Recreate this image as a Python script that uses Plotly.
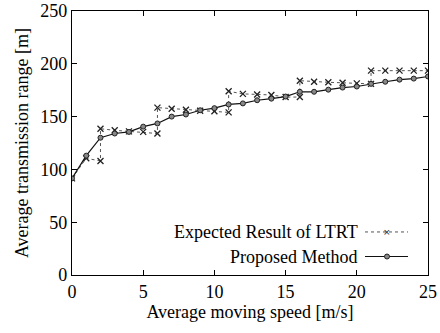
import plotly.graph_objects as go

# Data
speed_ltrt = [0, 1, 2, 2, 3, 4, 5, 6, 6, 7, 8, 9, 10, 11, 11, 12, 13, 14, 15,
              16, 16, 17, 18, 19, 20, 21, 21, 22, 23, 24, 25]
range_ltrt = [91.5, 110.5, 108, 138.5, 137, 136, 135.5, 134, 158.5, 157.5, 156.5,
              155.5, 155, 154, 174, 171.5, 171, 170.5, 168.5, 168.5, 184, 183,
              182.5, 182, 181.5, 181, 193.5, 193.5, 193.5, 193.5, 193.5]
speed_prop = list(range(0, 26))
range_prop = [91.5, 113, 130, 134, 135.5, 140.5, 143.5, 150, 152, 156, 158, 161.5,
              162.5, 165.5, 167, 169, 173.5, 173.5, 175.5, 177.5, 178.5, 181, 183,
              185, 186, 188]

x_ticks = [0, 5, 10, 15, 20, 25]
y_ticks = [0, 50, 100, 150, 200, 250]

FONT = "Liberation Serif"
FS = 18

fig = go.Figure()
fig.add_trace(go.Scatter(
    x=speed_ltrt, y=range_ltrt, mode="lines+markers", name="Expected Result of LTRT",
    line=dict(color="#555555", width=1, dash="dot"),
    marker=dict(symbol="x-thin", size=6, line=dict(color="#222222", width=1.3)),
    showlegend=False))
fig.add_trace(go.Scatter(
    x=speed_prop, y=range_prop, mode="lines+markers", name="Proposed Method",
    line=dict(color="#111111", width=1.2),
    marker=dict(symbol="circle", size=5, color="#888888", line=dict(color="#222222", width=1)),
    showlegend=False))

# Custom legend (text left, sample right)
legend_items = [("Expected Result of LTRT", 0.163, "dot", "x"),
                ("Proposed Method", 0.07, "solid", "o")]
x0p, x1p = (365 - 72) / 356, (408 - 72) / 356
xm = (387 - 72) / 356
for label, yp, dash, mk in legend_items:
    fig.add_annotation(x=(360 - 72) / 356, y=yp, xref="paper", yref="paper", text=label,
                       showarrow=False, xanchor="right", yanchor="middle",
                       font=dict(family=FONT, size=FS, color="black"))
    fig.add_shape(type="line", xref="paper", yref="paper", x0=x0p, x1=x1p, y0=yp, y1=yp,
                  line=dict(color="#555555" if dash == "dot" else "#111111",
                            width=1 if dash == "dot" else 1.2, dash=dash))
    if mk == "x":
        fig.add_annotation(x=xm, y=yp, xref="paper", yref="paper", text="×", showarrow=False,
                           font=dict(family="DejaVu Sans", size=9, color="#222222"),
                           xanchor="center", yanchor="middle")
    else:
        fig.add_shape(type="circle", xref="paper", yref="paper",
                      x0=xm - 2.5 / 356, x1=xm + 2.5 / 356, y0=yp - 2.5 / 264, y1=yp + 2.5 / 264,
                      fillcolor="#888888", line=dict(color="#222222", width=1))

axis_common = dict(showline=True, linecolor="black", linewidth=1.3, mirror="ticks",
                   ticks="inside", ticklen=5, tickcolor="black", showgrid=False, zeroline=False,
                   automargin=False,
                   tickfont=dict(family=FONT, size=FS, color="black"))
fig.update_xaxes(range=[0, 25], tickvals=x_ticks,
                 title=dict(text="Average moving speed [m/s]", font=dict(family=FONT, size=FS, color="black"), standoff=4),
                 **axis_common)
fig.update_yaxes(range=[0, 250], tickvals=y_ticks, ticklabelstandoff=0,
                 title=dict(text="Average transmission range [m]", font=dict(family=FONT, size=FS, color="black"), standoff=6),
                 **axis_common)
fig.update_layout(width=440, height=333, margin=dict(l=72, r=12, t=11, b=58),
                  paper_bgcolor="white", plot_bgcolor="white", font=dict(family=FONT))
fig.write_html("out.html")
